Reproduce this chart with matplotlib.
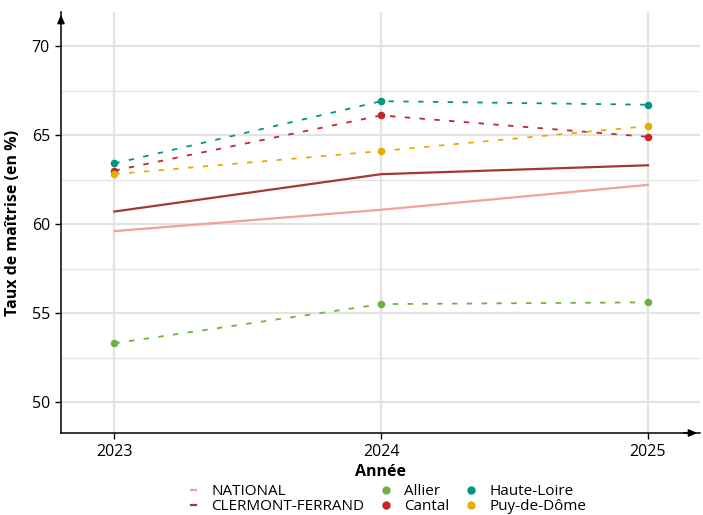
import matplotlib
matplotlib.use("Agg")
import matplotlib.pyplot as plt
from matplotlib.lines import Line2D
import numpy as np

plt.rcParams['font.family'] = ['Open Sans', 'DejaVu Sans']

# data ----
annees = [2023, 2024, 2025]
national = [59.6, 60.8, 62.2]
clermont = [60.7, 62.8, 63.3]
allier = [53.3, 55.5, 55.6]
cantal = [63.0, 66.1, 64.9]
haute_loire = [63.4, 66.9, 66.7]
puy_de_dome = [62.8, 64.1, 65.5]
y_ticks = [50, 55, 60, 65, 70]
# ---------

c_nat = "#f4a099"
c_cf = "#a33a2e"
c_all = "#6db33f"
c_can = "#c0282a"
c_hl = "#009683"
c_pdd = "#e6ac00"

fig = plt.figure(figsize=(7.03, 5.15), dpi=100)
ax = fig.add_axes([61/703, 82/515, 639/703, 421/515])

grid_col = "#e3e3e3"
for y in y_ticks:
    ax.axhline(y, color=grid_col, lw=1.6, zorder=0)
for y in np.array(y_ticks[:-1]) + 2.5:
    ax.axhline(y, color=grid_col, lw=0.9, zorder=0)
for x in annees:
    ax.axvline(x, color=grid_col, lw=1.6, zorder=0)

ax.plot(annees, national, "-", color=c_nat, lw=1.6, zorder=2)
ax.plot(annees, clermont, "-", color=c_cf, lw=1.6, zorder=2)

dep = [(allier, c_all), (cantal, c_can), (haute_loire, c_hl), (puy_de_dome, c_pdd)]
for vals, col in dep:
    ax.plot(annees, vals, linestyle=(0, (3, 5.2)), color=col, lw=1.3, zorder=3)
    ax.scatter(annees, vals, s=30, color=col, zorder=4, linewidths=0)

ax.set_xlim(2022.80, 2025.195)
ax.set_ylim(48.26, 71.91)
ax.set_xticks(annees)
ax.set_yticks(y_ticks)
ax.tick_params(labelsize=11.5, length=4, width=1, colors="black", pad=4)

for s in ["top", "right"]:
    ax.spines[s].set_visible(False)
for s in ["left", "bottom"]:
    ax.spines[s].set_linewidth(1.1)

# flèches au bout des axes
ax.annotate("", xy=(0, 1.0), xytext=(0, 0.97), xycoords="axes fraction",
            arrowprops=dict(arrowstyle="-|>,head_length=0.5,head_width=0.22", color="black", lw=1.1))
ax.annotate("", xy=(1.0, 0), xytext=(0.97, 0), xycoords="axes fraction",
            arrowprops=dict(arrowstyle="-|>,head_length=0.5,head_width=0.22", color="black", lw=1.1))

ax.set_xlabel("Année", fontsize=11.5, fontweight="bold", labelpad=3)
ax.set_ylabel("Taux de maîtrise (en %)", fontsize=11.5, fontweight="bold", labelpad=8)

handles = [
    Line2D([], [], color=c_nat, lw=1.6),
    Line2D([], [], color=c_cf, lw=1.6),
    Line2D([], [], color=c_all, marker="o", ls="", ms=5),
    Line2D([], [], color=c_can, marker="o", ls="", ms=5),
    Line2D([], [], color=c_hl, marker="o", ls="", ms=5),
    Line2D([], [], color=c_pdd, marker="o", ls="", ms=5),
]
labels = ["NATIONAL", "CLERMONT-FERRAND", "Allier", "Cantal", "Haute-Loire", "Puy-de-Dôme"]
fig.legend(handles, labels, ncol=3, loc="lower center", bbox_to_anchor=(0.553, 0.002),
           frameon=False, fontsize=11, handlelength=0.3, handletextpad=1.0,
           columnspacing=1.3, labelspacing=0.0, borderpad=0, borderaxespad=0)

fig.savefig("out.png", dpi=100)
